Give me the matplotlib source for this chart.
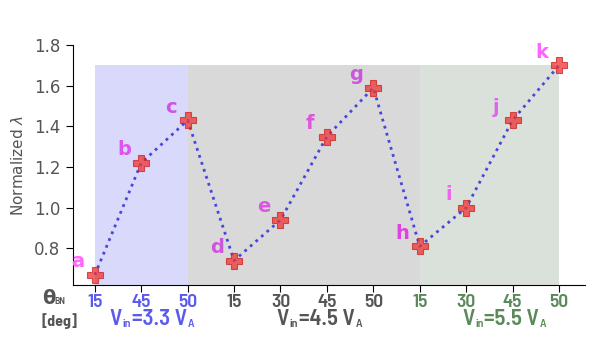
import matplotlib
matplotlib.use("Agg")
import matplotlib.pyplot as plt
import matplotlib.transforms as mtransforms

# ---- data ----
point_labels = ["a", "b", "c", "d", "e", "f", "g", "h", "i", "j", "k"]
theta_ticks = ["15", "45", "50", "15", "30", "45", "50", "15", "30", "45", "50"]
norm_lambda = [0.67, 1.22, 1.43, 0.74, 0.94, 1.35, 1.59, 0.81, 1.00, 1.43, 1.70]
group_names = ["3.3", "4.5", "5.5"]
group_spans = [(0, 2), (2, 7), (7, 10)]
group_colors = ["#5a5aee", "#555555", "#5a8a5a"]
group_bg = ["#d9d9fb", "#d9d9d9", "#dae0da"]
tick_colors = ["#5a5aee"] * 3 + ["#555555"] * 4 + ["#5a8a5a"] * 4
label_colors = ["#ff66ff", "#dd55ee", "#cc55e6", "#cc55dd", "#dd55e6", "#dd55dd",
                "#cc55dd", "#dd44dd", "#ee66ee", "#dd66ee", "#ff66ff"]

NARROW = ["Barlow Semi Condensed", "DejaVu Sans"]

fig = plt.figure(figsize=(6, 3.5), dpi=100)
ax = fig.add_axes([73 / 600, 1 - 285 / 350, (585 - 73) / 600, (285 - 45) / 350])

x = list(range(len(norm_lambda)))

for (s, e), bg in zip(group_spans, group_bg):
    ax.fill_between([s, e], 0.62, 1.7, color=bg, lw=0, zorder=0)

ax.plot(x, norm_lambda, linestyle=":", color="#4646dd", lw=2, zorder=2)
ax.plot(x, norm_lambda, linestyle="none", marker="P", ms=11, mfc="#ee3333",
        mec="#cc2222", mew=0.8, alpha=0.75, zorder=3)

for xi, yi, lab, c in zip(x, norm_lambda, point_labels, label_colors):
    ax.annotate(lab, (xi, yi), xytext=(-17, 13), textcoords="offset pixels",
                ha="center", va="center", fontsize=14, fontweight="bold",
                color=c, zorder=4)

ax.set_xlim(-0.47, 10.56)
ax.set_ylim(0.62, 1.8)
ax.set_yticks([0.8, 1.0, 1.2, 1.4, 1.6, 1.8])
ax.set_yticklabels(["0.8", "1.0", "1.2", "1.4", "1.6", "1.8"])
ax.tick_params(axis="y", labelsize=12, labelcolor="#555555", length=5, pad=4)
ax.set_xticks(x)
ax.set_xticklabels(theta_ticks, fontfamily=NARROW, fontweight="semibold",
                   fontsize=14)
for t, c in zip(ax.get_xticklabels(), tick_colors):
    t.set_color(c)
ax.tick_params(axis="x", length=5, pad=1.5)
ax.spines["top"].set_visible(False)
ax.spines["right"].set_visible(False)
ax.set_ylabel("Normalized $\\lambda$", fontsize=11, color="#555555",
              fontfamily="DejaVu Sans", labelpad=6)
ax.yaxis.label.set_math_fontfamily("dejavusans")

# group labels "V_in=x.x V_A" built from pieces
trans = mtransforms.blended_transform_factory(ax.transData, fig.transFigure)
starts = [0.32, 3.92, 7.91]
big = dict(fontsize=16.5, fontweight="semibold", fontfamily=NARROW)
small = dict(fontsize=8.5, fontweight="semibold", fontfamily=NARROW)
for sx, name, c in zip(starts, group_names, group_colors):
    t1 = ax.text(sx, 1 - 325 / 350, "V", transform=trans, ha="left",
                 va="baseline", color=c, **big)
    t2 = ax.annotate("in", xy=(1, 0), xycoords=t1, xytext=(0.5, 0),
                     textcoords="offset points", ha="left", va="bottom",
                     color=c, **small)
    t3 = ax.annotate("=" + name + " V", xy=(1, 0), xycoords=t2,
                     xytext=(0.5, 0), textcoords="offset points",
                     ha="left", va="bottom", color=c, **big)
    ax.annotate("A", xy=(1, 0), xycoords=t3, xytext=(0.5, 0),
                textcoords="offset points", ha="left", va="bottom",
                color=c, **small)

fig.text(42 / 600, 1 - 299 / 350, "θ", fontsize=14, fontweight="bold",
         fontfamily="DejaVu Sans", color="#555555",
         ha="left", va="center")
fig.text(54 / 600, 1 - 302 / 350, "BN", fontsize=7, fontweight="semibold",
         fontfamily=NARROW, color="#555555", ha="left", va="center")
fig.text(60 / 600, 1 - 321 / 350, "[deg]", fontsize=11.5, fontweight="bold",
         fontfamily=NARROW, color="#555555", ha="center", va="center")

fig.savefig("out.png", dpi=100)
